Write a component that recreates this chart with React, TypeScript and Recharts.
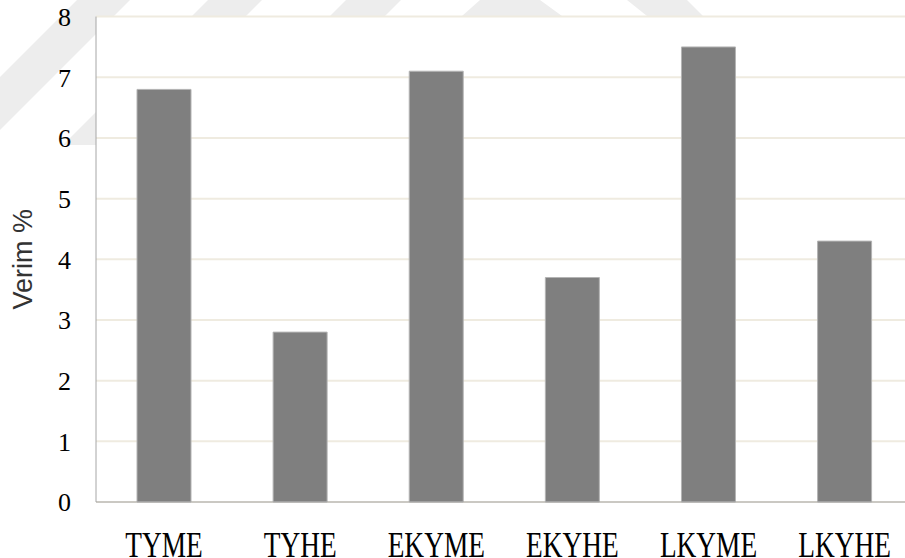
import { Bar, BarChart, CartesianGrid, XAxis, YAxis } from "recharts";

// verim (%) for each sample group
const groups = ["TYME", "TYHE", "EKYME", "EKYHE", "LKYME", "LKYHE"];
const verim = [6.8, 2.8, 7.1, 3.7, 7.5, 4.3];
const yTicks = [0, 1, 2, 3, 4, 5, 6, 7, 8];

const data = groups.map((name, i) => ({ name, verim: verim[i] }));

const serif = "'Liberation Serif', 'Times New Roman', serif";

// faint diagonal watermark bands, kept outside the plot rectangle
function Watermark() {
  const fill = "#ededed";
  return (
    <svg
      width={905}
      height={558}
      style={{ position: "absolute", left: 0, top: 0 }}
    >
      <defs>
        <mask id="outsidePlot">
          <rect x={0} y={0} width={905} height={558} fill="#fff" />
          <rect x={96} y={16.6} width={820} height={486} fill="#000" />
        </mask>
      </defs>
      <g mask="url(#outsidePlot)">
        <polygon points="77,0 130,0 0,130 0,77" fill={fill} />
        <polygon points="208,0 262,0 117,145 63,145" fill={fill} />
        <polygon points="346,0 401,0 256,145 201,145" fill={fill} />
        <polygon points="480,0 540,0 562,16 462,16" fill={fill} />
        <polygon points="627,0 687,0 703,16 647,16" fill={fill} />
      </g>
    </svg>
  );
}

// category labels are set in a tall, narrowed serif
function GroupTick(props: any) {
  const { x, y, payload } = props;
  return (
    <g transform={`translate(${x},${y})`}>
      <text
        transform="scale(0.76,1)"
        x={0}
        y={0}
        dy={25.5}
        textAnchor="middle"
        fill="#000"
        fontSize={36}
        fontFamily={serif}
      >
        {payload.value}
      </text>
    </g>
  );
}

export default function App() {
  return (
    <div
      style={{
        position: "fixed",
        left: 0,
        top: 0,
        width: 905,
        height: 558,
        overflow: "hidden",
        background: "#fff",
      }}
    >
      <Watermark />
      <div style={{ position: "absolute", left: 0, top: 0 }}>
        <BarChart
          width={920}
          height={560}
          data={data}
          margin={{ top: 16.6, right: 7.3, left: 0, bottom: 8 }}
          barSize={54}
        >
          <CartesianGrid vertical={false} stroke="#efebe0" strokeWidth={2} />
          <XAxis
            dataKey="name"
            height={50}
            axisLine={{ stroke: "#a6a6a6" }}
            tickLine={false}
            tickSize={0}
            tickMargin={29}
            interval={0}
            tick={<GroupTick />}
          />
          <YAxis
            width={96}
            domain={[0, 8]}
            ticks={yTicks}
            interval={0}
            axisLine={{ stroke: "#a6a6a6" }}
            tickLine={false}
            tickSize={0}
            tickMargin={25}
            tick={{ fill: "#000", fontSize: 26, fontFamily: serif }}
            label={{
              value: "Verim %",
              angle: -90,
              position: "insideLeft",
              offset: 22,
              style: {
                textAnchor: "middle",
                fontFamily: "'Liberation Sans', Arial, sans-serif",
                fontSize: 27,
                fill: "#333",
              },
            }}
          />
          <Bar
            dataKey="verim"
            fill="#7f7f7f"
            stroke="#b4b4b4"
            strokeWidth={1}
            isAnimationActive={false}
          />
        </BarChart>
      </div>
    </div>
  );
}
